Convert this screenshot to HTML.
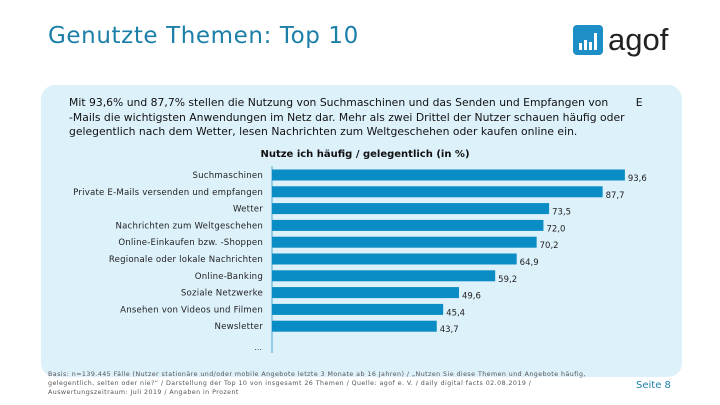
<!DOCTYPE html>
<html><head><meta charset="utf-8"><style>
body{margin:0;width:720px;height:405px;background:#fff;position:relative;overflow:hidden;font-family:"DejaVu Sans","Liberation Sans",sans-serif}
#title{position:absolute;left:48px;top:23px;font-size:23px;letter-spacing:0.6px;color:#1b7fa8;font-family:"DejaVu Sans","Liberation Sans",sans-serif;white-space:nowrap}
#panel{position:absolute;left:41px;top:85px;width:641px;height:292px;background:#ddf1fb;border-radius:14px}
#intro{position:absolute;left:69px;top:96px;width:620px;font-size:10.8px;line-height:14.5px;color:#111;white-space:nowrap}
#foot{position:absolute;left:48px;top:370px;font-size:6.3px;line-height:9px;color:#555;width:600px;letter-spacing:0.45px;white-space:nowrap}
#page{position:absolute;left:636px;top:380px;font-size:10px;color:#1b7fa8}
#logo{position:absolute;left:573px;top:24px}
</style></head><body>
<div id="title">Genutzte Themen: Top 10</div>
<svg id="logo" width="110" height="36">
<rect x="0" y="1" width="30" height="30" rx="4" fill="#1e8fc6"/>
<rect x="6" y="19" width="3" height="7" fill="#fff"/><rect x="11" y="16" width="3" height="10" fill="#fff"/><rect x="16" y="18" width="3" height="8" fill="#fff"/><rect x="21" y="9" width="3" height="17" fill="#fff"/>
<text x="35" y="26" font-size="31" font-family="Liberation Sans,sans-serif" fill="#222">agof</text>
</svg>
<div id="panel"></div>
<div id="intro">Mit 93,6% und 87,7% stellen die Nutzung von Suchmaschinen und das Senden und Empfangen von &nbsp;&nbsp;&nbsp;&nbsp;&nbsp;&nbsp;&nbsp;E<br>-Mails die wichtigsten Anwendungen im Netz dar. Mehr als zwei Drittel der Nutzer schauen häufig oder<br>gelegentlich nach dem Wetter, lesen Nachrichten zum Weltgeschehen oder kaufen online ein.</div>
<svg id="chart" width="720" height="405" style="position:absolute;left:0;top:0">
<text x="365" y="157" text-anchor="middle" font-size="10" font-weight="bold" fill="#111">Nutze ich häufig / gelegentlich (in %)</text>
<line x1="272" y1="166" x2="272" y2="353" stroke="#7fc0dd" stroke-width="1.5"/>
<text x="262" y="350" text-anchor="end" font-size="8" fill="#333">...</text>
<g id="bars"></g>
</svg>
<div id="foot">Basis: n=139.445 Fälle (Nutzer stationäre und/oder mobile Angebote letzte 3 Monate ab 16 Jahren) / „Nutzen Sie diese Themen und Angebote häufig,<br>gelegentlich, selten oder nie?“ / Darstellung der Top 10 von insgesamt 26 Themen / Quelle: agof e. V. / daily digital facts 02.08.2019 /<br>Auswertungszeitraum: Juli 2019 / Angaben in Prozent</div>
<div id="page">Seite 8</div>
<script>
const categories=["Suchmaschinen","Private E-Mails versenden und empfangen","Wetter","Nachrichten zum Weltgeschehen","Online-Einkaufen bzw. -Shoppen","Regionale oder lokale Nachrichten","Online-Banking","Soziale Netzwerke","Ansehen von Videos und Filmen","Newsletter"];
const values=[93.6,87.7,73.5,72.0,70.2,64.9,59.2,49.6,45.4,43.7];
const valueLabels=["93,6","87,7","73,5","72,0","70,2","64,9","59,2","49,6","45,4","43,7"];
const x0=272,pxPer=3.77,y0=175,step=16.8,bh=11;
const xs=v=>x0+v*pxPer, ys=i=>y0+i*step;
const g=document.getElementById('bars'),NS='http://www.w3.org/2000/svg';
categories.forEach((c,i)=>{
 const r=document.createElementNS(NS,'rect');
 r.setAttribute('x',x0);r.setAttribute('y',ys(i)-bh/2);r.setAttribute('width',xs(values[i])-x0);r.setAttribute('height',bh);r.setAttribute('fill','#0a8cc4');
 
 
 g.appendChild(r);
 const t=document.createElementNS(NS,'text');
 t.setAttribute('x',263);t.setAttribute('y',ys(i)+3);t.setAttribute('text-anchor','end');t.setAttribute('font-size','8.6');t.setAttribute('letter-spacing','0.2');t.setAttribute('fill','#222');t.textContent=c;
 
 
 g.appendChild(t);
 const v=document.createElementNS(NS,'text');
 v.setAttribute('x',xs(values[i])+3);v.setAttribute('y',ys(i)+6);v.setAttribute('font-size','8.5');v.setAttribute('fill','#222');v.textContent=valueLabels[i];
 
 
 g.appendChild(v);
});
</script>
</body></html>
